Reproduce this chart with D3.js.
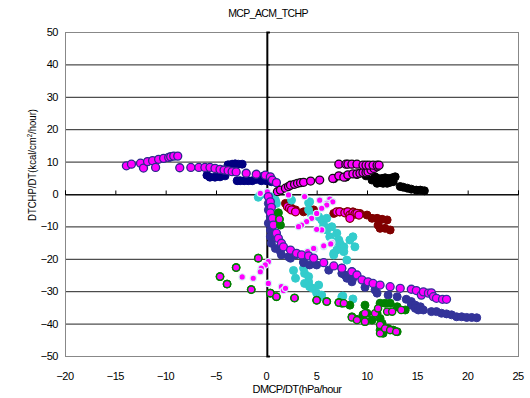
<!DOCTYPE html>
<html>
<head>
<meta charset="utf-8">
<script src="https://cdn.jsdelivr.net/npm/d3@7"></script>
<style>
    body { margin: 0; background: #fff; }
    text { font-family: "Liberation Sans", Arial, sans-serif; fill: #000; }
</style>
</head>
<body>
<div id="chart"></div>
<script>
var xTicks = [-20, -15, -10, -5, 0, 5, 10, 15, 20, 25];
var yTicks = [-50, -40, -30, -20, -10, 0, 10, 20, 30, 40, 50];

// [DMCP/DT, DTCHP/DT]
var navyPts = [[-5.6,5.2],[-5.1,5.2],[-4.6,5.3],[-4.1,5.6],[-3.8,9.0],[-3.4,9.2],[-3.1,9.3],[-2.8,9.2],[-2.4,9.2],
    [-2.9,4.1],[-2.6,4.1],[-2.2,4.1],[-1.8,4.1],[-1.4,4.1],[-1.0,4.5],[-0.5,4.1],[0.0,4.1],[0.5,3.8],[-0.3,5.5],[-5.9,5.8]];
var navyMag = [[-13.9,8.7],[-13.4,9.2],[-12.5,9.5],[-12.2,8.0],[-11.8,10.0],[-11.3,10.3],[-11.0,8.2],[-10.7,10.7],
    [-10.2,11.0],[-9.7,11.3],[-9.5,11.5],[-9.2,11.7],[-8.8,11.7],[-8.6,8.1],[-7.5,8.2],[-6.7,8.2],[-6.1,8.2],[-5.6,8.2],
    [-5.1,7.9],[-4.6,7.6],[-4.2,7.4],[-3.8,7.2],[-3.4,6.9],[-3.0,6.8],[-2.0,6.4],[-1.0,6.1],[-0.1,5.8],[0.4,5.3],[0.6,4.3],[1.0,3.5]];
var blackPts = [[6.7,4.7],[7.9,5.2],[9.0,6.0],[9.9,5.6],[10.5,4.3],[10.8,4.5],[11.1,4.8],[11.5,4.8],[11.8,5.0],[12.1,4.8],
    [12.5,5.0],[12.8,5.3],[11.0,3.3],[11.3,3.5],[11.6,3.3],[12.0,3.3],[12.3,3.6],[12.6,3.8],[13.3,2.3],[13.6,2.1],
    [14.0,1.8],[14.4,1.5],[14.9,1.2],[15.3,1.2],[15.7,1.0],[10.8,5.3]];
var blackMag = [[1.1,0.7],[1.4,1.2],[1.9,1.8],[2.2,2.3],[2.4,2.7],[2.8,3.0],[3.1,3.3],[3.4,3.5],[3.7,3.6],[4.4,4.0],
    [5.3,4.3],[6.6,4.8],[7.2,5.6],[7.7,5.2],[8.1,5.9],[8.6,6.2],[9.0,6.2],[9.3,6.4],[9.6,6.6],[9.9,6.6],[10.1,6.9],
    [10.4,7.4],[10.7,7.9],[11.0,8.4],[7.2,9.2],[7.9,9.2],[8.1,9.2],[8.5,9.2],[9.0,9.2],[9.6,8.9],[9.9,8.9],[10.2,8.9],
    [10.6,8.9],[11.0,8.9],[11.2,8.9]];
var darkredPts = [[1.9,-2.9],[2.2,-3.9],[2.5,-4.4],[2.9,-4.9],[3.7,-5.5],[4.7,-4.9],[6.7,-6.0],[7.3,-5.5],[8.0,-5.5],
    [8.6,-5.5],[9.3,-6.0],[10.0,-6.5],[10.5,-7.5],[11.0,-7.5],[11.5,-7.8],[12.0,-8.0],[11.1,-9.6],[11.3,-10.6],
    [11.8,-10.6],[12.3,-11.1]];
var darkredMag = [[2.1,-3.9],[2.3,-4.4],[2.5,-4.9],[2.9,-5.5],[7.0,-5.5],[7.3,-5.5],[7.8,-5.8],[8.1,-5.5],[8.3,-6.5],
    [8.6,-5.8],[8.8,-6.2],[9.0,-6.0],[9.2,-6.5],[8.3,-7.5]];
var cyanPts = [[-0.8,-1.0],[-0.6,-0.3],[0.4,-0.8],[0.9,-1.9],[1.0,-2.9],[2.5,-1.9],[4.2,-2.7],[4.3,-2.4],[4.2,-4.9],
    [4.5,-6.5],[5.2,-7.0],[5.5,-8.0],[5.7,-9.6],[6.0,-7.5],[6.0,-11.1],[6.5,-10.1],[6.3,-13.2],[7.0,-12.1],[6.7,-14.7],
    [7.2,-14.2],[7.3,-15.2],[8.3,-14.2],[8.6,-13.2],[7.7,-16.3],[8.8,-16.3],[7.7,-17.8],[7.0,-17.3],[6.7,-18.3],
    [6.7,-18.8],[8.0,-20.4],[2.7,-23.6],[3.7,-22.9],[2.9,-26.0],[3.8,-24.5],[4.2,-25.5],[4.2,-27.1],[3.8,-27.6],
    [4.6,-29.1],[5.2,-28.1],[4.3,-28.6],[5.0,-30.6],[5.5,-31.2],[5.3,-31.7],[7.5,-31.7],[7.6,-31.5],[8.6,-32.4]];
var cyanMag = [[-0.6,0.2],[0.1,0.7],[2.2,-0.3],[3.8,-0.8],[5.3,-1.9],[6.3,-1.6],[6.6,-2.4],[6.0,-2.9],[6.0,-3.4],
    [5.5,-4.4],[5.0,-6.0],[4.5,-7.5],[4.0,-8.5],[3.5,-9.6],[3.2,-10.1],[5.5,-11.1],[5.0,-10.9],[6.5,-15.0],[5.7,-16.3],
    [4.8,-17.1],[4.2,-17.8],[3.4,-18.8],[2.4,-20.2],[0.2,-20.9],[-0.1,-21.9],[-0.5,-22.9],[-0.6,-24.0],[-1.3,-26.0],
    [-2.4,-25.6],[0.2,-27.6],[1.5,-28.6],[1.7,-29.8],[1.9,-29.1],[3.2,-18.5],[4.1,-17.8],[4.7,-16.8],[5.7,-16.0],[6.4,-15.4]];
var slatePts = [[0.2,-2.9],[0.2,-4.9],[0.4,-7.0],[0.2,-9.0],[0.4,-11.1],[0.4,-13.2],[0.5,-15.2],[0.9,-16.8],[1.4,-17.8],
    [1.5,-18.8],[2.2,-19.4],[2.9,-18.8],[2.4,-19.8],[3.7,-20.9],[3.7,-21.2],[4.3,-21.9],[5.0,-21.9],[6.2,-23.5],
    [7.5,-22.9],[7.5,-24.5],[7.8,-25.0],[8.0,-26.0],[8.5,-24.0],[8.5,-27.1],[8.6,-26.0],[9.8,-28.8],[10.8,-29.6],
    [11.0,-30.6],[12.1,-31.2],[13.0,-31.7],[13.9,-32.5],[14.4,-33.2],[14.4,-34.3],[14.8,-34.3],[14.8,-35.3],[15.1,-35.8],
    [15.3,-34.8],[15.6,-35.8],[16.4,-36.3],[16.9,-36.3],[17.4,-36.8],[17.9,-37.0],[18.4,-37.3],[18.9,-37.9],[19.4,-37.9],
    [19.9,-38.1],[20.4,-38.1],[20.9,-38.2]];
var slateMag = [[0.2,-0.8],[0.4,-2.4],[0.5,-4.1],[0.4,-5.8],[0.6,-7.5],[0.7,-9.6],[1.0,-12.1],[1.2,-13.7],[1.5,-15.2],
    [1.7,-16.3],[2.4,-17.3],[3.0,-18.3],[3.5,-18.8],[4.2,-19.1],[4.7,-19.8],[5.7,-21.2],[6.7,-22.2],[7.5,-22.9],
    [8.5,-24.0],[9.0,-25.0],[9.5,-26.5],[10.1,-27.1],[10.6,-27.6],[11.3,-28.1],[12.3,-28.6],[13.3,-29.1],[14.4,-29.4],
    [14.9,-29.8],[15.4,-31.2],[15.6,-30.2],[16.1,-30.6],[16.4,-30.5],[16.6,-31.7],[16.9,-32.2],[17.5,-32.5],[17.9,-32.5]];
var greenPts = [[-4.6,-25.5],[-3.9,-27.8],[-3.0,-22.7],[-1.5,-29.5],[-0.8,-19.8],[0.4,-30.6],[1.0,-31.7],[2.8,-32.1],
    [5.0,-32.8],[6.0,-33.2],[7.2,-33.5],[7.5,-33.7],[8.3,-34.3],[9.8,-34.3],[10.0,-36.8],[11.3,-33.7],[11.8,-33.7],
    [12.3,-33.7],[13.0,-34.8],[13.8,-35.8],[8.5,-37.9],[9.0,-38.7],[9.6,-37.3],[9.8,-39.4],[10.5,-38.9],[11.0,-36.8],
    [11.3,-38.4],[11.5,-39.9],[11.3,-42.0],[11.6,-43.0],[12.1,-41.5],[12.6,-42.0],[13.0,-42.5],[1.2,-5.8],[1.3,-7.8],
    [1.4,-9.6]];
var greenMag = [[-4.6,-25.5],[-3.9,-27.8],[-3.0,-22.7],[-1.5,-29.5],[-0.8,-19.8],[0.4,-30.6],[1.0,-31.7],[2.8,-32.1],
    [5.0,-32.8],[6.0,-33.2],[7.2,-33.5],[7.7,-33.7],[8.5,-38.1],[9.0,-38.9],[9.8,-36.8],[9.8,-39.4],[10.8,-36.8],
    [11.1,-35.3],[12.0,-36.3],[12.5,-36.3],[13.4,-35.8],[11.3,-40.4],[11.3,-43.0],[11.8,-41.5],[12.3,-42.0],[12.9,-42.5],
    [1.3,-7.8]];

var width = 530, height = 398;
var margin = { left: 65, right: 12, top: 32, bottom: 42 };

var svg = d3.select("#chart").append("svg")
    .attr("width", width)
    .attr("height", height);

var x = d3.scaleLinear().domain([-20, 25]).range([margin.left, width - margin.right]);
var y = d3.scaleLinear().domain([-50, 50]).range([height - margin.bottom, margin.top]);

// gridlines
svg.append("g").selectAll("line")
    .data(yTicks.filter(function (d) { return d > -50 && d < 50; }))
    .enter().append("line")
    .attr("x1", x(-20)).attr("x2", x(25))
    .attr("y1", function (d) { return y(d) + 0.5; })
    .attr("y2", function (d) { return y(d) + 0.5; })
    .attr("stroke", "#222").attr("stroke-width", 1);

// plot frame
svg.append("rect")
    .attr("x", x(-20) + 0.5).attr("y", y(50) + 0.5)
    .attr("width", x(25) - x(-20)).attr("height", y(-50) - y(50))
    .attr("fill", "none").attr("stroke", "#888");

// axis at y = 0 with ticks pointing up
var xAxis = d3.axisTop(x).tickValues(xTicks).tickSize(4).tickFormat("");
svg.append("g")
    .attr("transform", "translate(0," + (y(0) + 0.5) + ")")
    .call(xAxis)
    .call(function (g) { g.selectAll("line, path").attr("stroke", "#000"); });

// axis at x = 0 with ticks pointing right
var yAxis = d3.axisRight(y).tickValues(yTicks).tickSize(3).tickFormat("");
svg.append("g")
    .attr("transform", "translate(" + (x(0) + 0.5) + ",0)")
    .call(yAxis)
    .call(function (g) {
        g.select("path").attr("stroke", "#000").attr("stroke-width", 2);
        g.selectAll("line").attr("stroke", "#000");
    });

// tick labels at the frame
function fmt(d) { return d < 0 ? "\u2212" + Math.abs(d) : "" + d; }

svg.append("g").selectAll("text")
    .data(yTicks).enter().append("text")
    .attr("x", x(-20) - 7)
    .attr("y", function (d) { return y(d) + 4; })
    .attr("text-anchor", "end")
    .attr("font-size", "11px")
    .attr("letter-spacing", "-0.5px")
    .text(fmt);

svg.append("g").selectAll("text")
    .data(xTicks).enter().append("text")
    .attr("x", function (d) { return x(d); })
    .attr("y", y(-50) + 24)
    .attr("text-anchor", "middle")
    .attr("font-size", "11px")
    .attr("letter-spacing", "-0.5px")
    .text(fmt);

// markers
function drawSeries(data, fill, stroke, r, sw) {
    svg.append("g").selectAll("circle")
        .data(data).enter().append("circle")
        .attr("cx", function (d) { return x(d[0]); })
        .attr("cy", function (d) { return y(d[1]); })
        .attr("r", r)
        .attr("fill", fill)
        .attr("stroke", stroke)
        .attr("stroke-width", sw);
}

var MAG = "#FF00FF";
drawSeries(navyPts, "#000080", "#000080", 4, 1);
drawSeries(navyMag, MAG, "#2a2a8a", 4, 1.3);
drawSeries(blackPts, "#000", "#000", 4, 1);
drawSeries(blackMag, MAG, "#111", 4, 1.3);
drawSeries(darkredPts, "#800000", "#800000", 4, 1);
drawSeries(darkredMag, MAG, "#800000", 4, 1.3);
drawSeries(cyanPts, "#33CCCC", "#33CCCC", 4, 1);
drawSeries(cyanMag, MAG, "#d8f6f6", 3.2, 1.2);
drawSeries(slatePts, "#333399", "#333399", 4, 1);
drawSeries(slateMag, MAG, "#333399", 4, 1.3);
drawSeries(greenPts, "#008000", "#008000", 4, 1);
drawSeries(greenMag, MAG, "#008000", 3.6, 1.4);

// titles
svg.append("text")
    .attr("x", 268).attr("y", 17)
    .attr("text-anchor", "middle")
    .attr("font-size", "10.5px")
    .attr("letter-spacing", "-0.6px")
    .text("MCP_ACM_TCHP");

svg.append("text")
    .attr("x", 297).attr("y", 393)
    .attr("text-anchor", "middle")
    .attr("font-size", "11px")
    .attr("letter-spacing", "-0.6px")
    .text("DMCP/DT(hPa/hour");

var yl = svg.append("text")
    .attr("transform", "translate(36,165) rotate(-90)")
    .attr("text-anchor", "middle")
    .attr("font-size", "11px")
    .attr("textLength", 112)
    .attr("lengthAdjust", "spacingAndGlyphs");
yl.append("tspan").text("DTCHP/DT(kcal/cm");
yl.append("tspan").attr("dy", -4).attr("font-size", "7px").text("2");
yl.append("tspan").attr("dy", 4).text("/hour)");
</script>
</body>
</html>
